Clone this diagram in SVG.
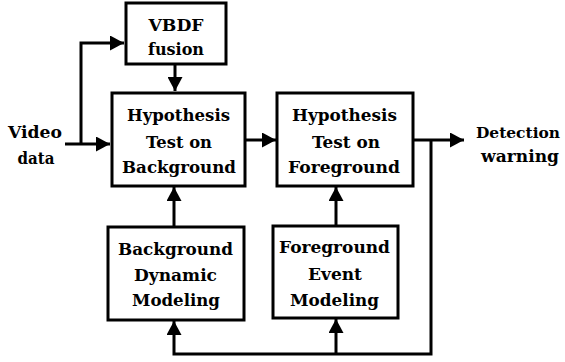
<svg xmlns="http://www.w3.org/2000/svg" width="565" height="362" viewBox="0 0 565 362">
<style>
.box{fill:#fff;stroke:#000;stroke-width:3}
.t{font-family:'DejaVu Serif','Liberation Serif',serif;font-weight:700;font-size:17px;fill:#000;text-anchor:middle}
.c{fill:none;stroke:#000;stroke-width:3}
</style>
<defs>
<marker id="ah" markerUnits="userSpaceOnUse" markerWidth="15" markerHeight="15" refX="14" refY="7.5" orient="auto" viewBox="0 0 15 15">
<path d="M0,0 L14,7.5 L0,15 z" fill="#000"/>
</marker>
</defs>
<rect width="565" height="362" fill="#fff"/>
<g id="connectors">
<path class="c" d="M65,144 H110" marker-end="url(#ah)"/>
<path class="c" d="M81,144 V43 H124" marker-end="url(#ah)"/>
<path class="c" d="M175,64 V91" marker-end="url(#ah)"/>
<path class="c" d="M245,140 H276" marker-end="url(#ah)"/>
<path class="c" d="M413,140 H464" marker-end="url(#ah)"/>
<path class="c" d="M431,140 V354 H174 V321" marker-end="url(#ah)"/>
<path class="c" d="M336,354 V319" marker-end="url(#ah)"/>
<path class="c" d="M174,226 V187" marker-end="url(#ah)"/>
<path class="c" d="M336,225 V187" marker-end="url(#ah)"/>
</g>
<g id="video-data">
<text class="t" x="35" y="138" textLength="54" lengthAdjust="spacingAndGlyphs">Video</text>
<text class="t" x="36" y="164" textLength="37" lengthAdjust="spacingAndGlyphs">data</text>
</g>
<g id="vbdf">
<rect class="box" x="126" y="3" width="100" height="61"/>
<text class="t" x="176" y="31" textLength="55" lengthAdjust="spacingAndGlyphs">VBDF</text>
<text class="t" x="176" y="55" textLength="56" lengthAdjust="spacingAndGlyphs">fusion</text>
</g>
<g id="hyp-bg">
<rect class="box" x="112" y="93" width="133" height="93"/>
<text class="t" x="178.5" y="121" textLength="103" lengthAdjust="spacingAndGlyphs">Hypothesis</text>
<text class="t" x="179" y="148" textLength="66" lengthAdjust="spacingAndGlyphs">Test on</text>
<text class="t" x="179" y="173" textLength="114" lengthAdjust="spacingAndGlyphs">Background</text>
</g>
<g id="hyp-fg">
<rect class="box" x="277" y="93" width="136" height="93"/>
<text class="t" x="344.5" y="121" textLength="105" lengthAdjust="spacingAndGlyphs">Hypothesis</text>
<text class="t" x="346" y="148" textLength="68" lengthAdjust="spacingAndGlyphs">Test on</text>
<text class="t" x="344" y="173" textLength="112" lengthAdjust="spacingAndGlyphs">Foreground</text>
</g>
<g id="detection">
<text class="t" x="518" y="138" style="font-size:15.5px" textLength="84" lengthAdjust="spacingAndGlyphs">Detection</text>
<text class="t" x="520" y="162" textLength="78" lengthAdjust="spacingAndGlyphs">warning</text>
</g>
<g id="bg-model">
<rect class="box" x="108" y="227" width="136" height="93"/>
<text class="t" x="175.5" y="255" textLength="115" lengthAdjust="spacingAndGlyphs">Background</text>
<text class="t" x="175.5" y="281" textLength="83" lengthAdjust="spacingAndGlyphs">Dynamic</text>
<text class="t" x="176" y="306" textLength="88" lengthAdjust="spacingAndGlyphs">Modeling</text>
</g>
<g id="fg-event">
<rect class="box" x="273" y="226" width="125" height="92"/>
<text class="t" x="334.5" y="253" textLength="111" lengthAdjust="spacingAndGlyphs">Foreground</text>
<text class="t" x="335" y="280" textLength="54" lengthAdjust="spacingAndGlyphs">Event</text>
<text class="t" x="334.5" y="306" textLength="89" lengthAdjust="spacingAndGlyphs">Modeling</text>
</g>
</svg>
